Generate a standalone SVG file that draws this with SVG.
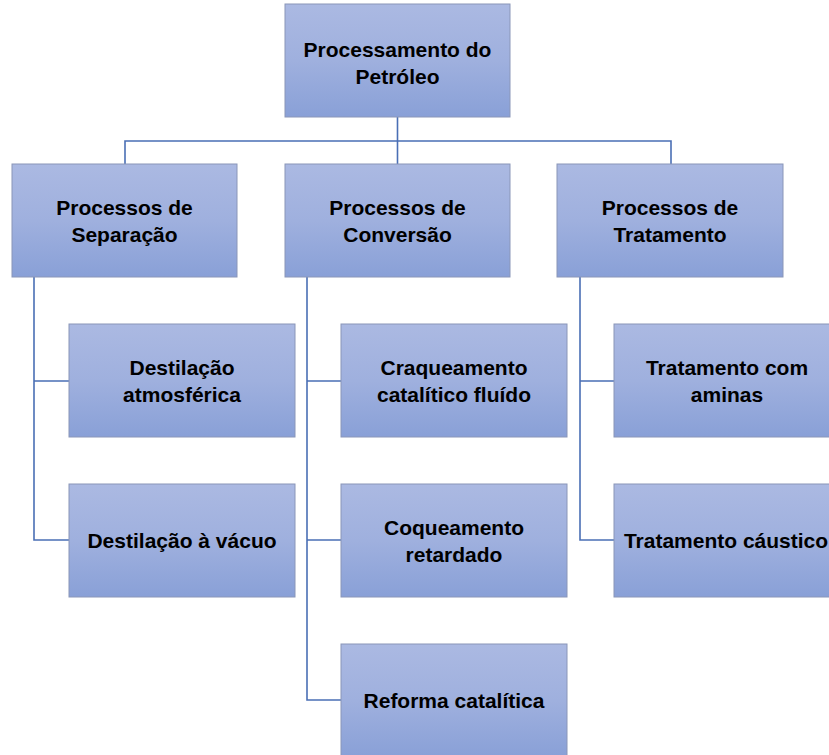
<svg xmlns="http://www.w3.org/2000/svg" width="829" height="755" viewBox="0 0 829 755">
<defs>
<linearGradient id="g" x1="0" y1="0" x2="0" y2="1">
<stop offset="0" stop-color="#abb9e2"/>
<stop offset="0.5" stop-color="#9fb0de"/>
<stop offset="1" stop-color="#89a0d7"/>
</linearGradient>
<style>
.box{fill:url(#g);stroke:#8a96b8;stroke-width:1}
.t{font-family:"Liberation Sans",Arial,sans-serif;font-weight:bold;font-size:21px;fill:#000;text-anchor:middle}
.c{fill:none;stroke:#4a6fb5;stroke-width:1.6}
</style>
</defs>
<rect width="829" height="755" fill="#fff"/>
<g id="connectors">
<path class="c" d="M397.5,117 V164 M125,164 V141 H671 V164"/>
<path class="c" d="M34,277 V540 H69 M34,381 H69"/>
<path class="c" d="M307,277 V700 H341 M307,381 H341 M307,540 H341"/>
<path class="c" d="M580,277 V540 H614 M580,381 H614"/>
</g>
<g id="root"><rect class="box" x="285" y="4" width="225" height="113"/><text class="t" x="397.5" y="57">Processamento do</text><text class="t" x="397.5" y="84">Petróleo</text></g>
<g id="separacao"><rect class="box" x="12" y="164" width="225" height="113"/><text class="t" x="124.5" y="215">Processos de</text><text class="t" x="124.5" y="242">Separação</text></g>
<g id="conversao"><rect class="box" x="285" y="164" width="225" height="113"/><text class="t" x="397.5" y="215">Processos de</text><text class="t" x="397.5" y="242">Conversão</text></g>
<g id="tratamento"><rect class="box" x="557" y="164" width="226" height="113"/><text class="t" x="670" y="215">Processos de</text><text class="t" x="670" y="242">Tratamento</text></g>
<g id="dest-atm"><rect class="box" x="69" y="324" width="226" height="113"/><text class="t" x="182" y="375">Destilação</text><text class="t" x="182" y="402">atmosférica</text></g>
<g id="dest-vac"><rect class="box" x="69" y="484" width="226" height="113"/><text class="t" x="182" y="548">Destilação à vácuo</text></g>
<g id="craqueamento"><rect class="box" x="341" y="324" width="226" height="113"/><text class="t" x="454" y="375">Craqueamento</text><text class="t" x="454" y="402">catalítico fluído</text></g>
<g id="coqueamento"><rect class="box" x="341" y="484" width="226" height="113"/><text class="t" x="454" y="535">Coqueamento</text><text class="t" x="454" y="562">retardado</text></g>
<g id="reforma"><rect class="box" x="341" y="644" width="226" height="113"/><text class="t" x="454" y="708">Reforma catalítica</text></g>
<g id="aminas"><rect class="box" x="614" y="324" width="226" height="113"/><text class="t" x="727" y="375">Tratamento com</text><text class="t" x="727" y="402">aminas</text></g>
<g id="caustico"><rect class="box" x="614" y="484" width="226" height="113"/><text class="t" x="726" y="548">Tratamento cáustico</text></g>
</svg>
